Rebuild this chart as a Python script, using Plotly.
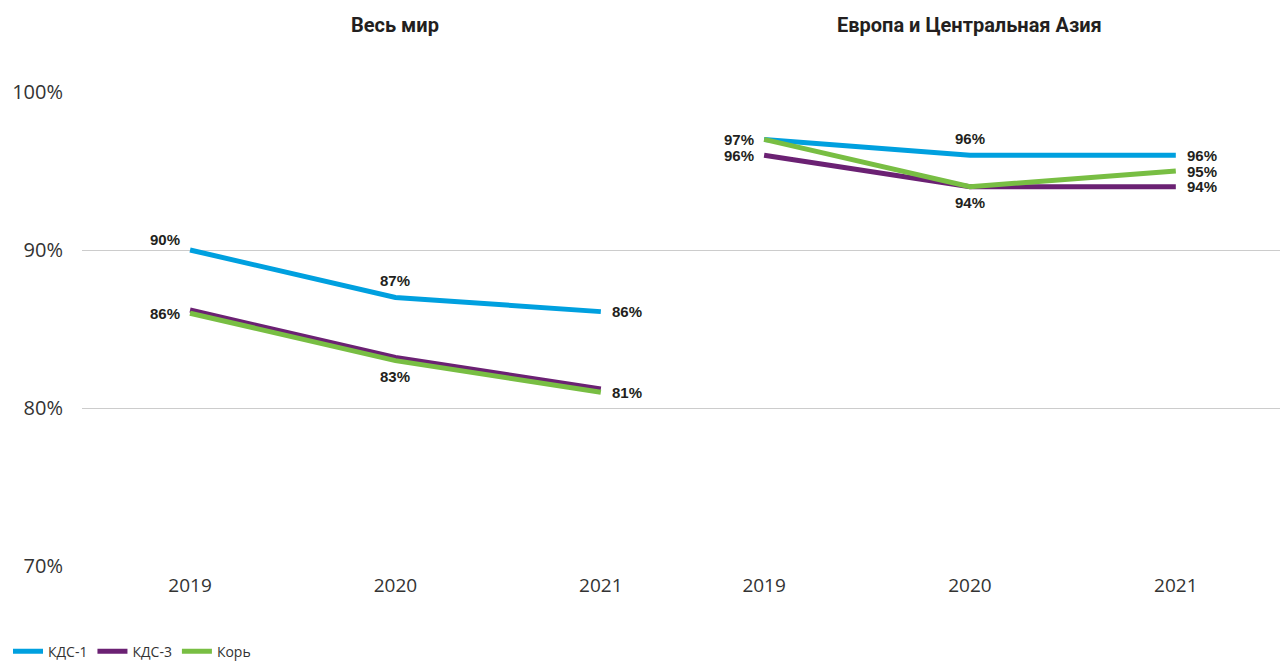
import plotly.graph_objects as go

years = ["2019", "2020", "2021"]
regions = ["Весь мир", "Европа и Центральная Азия"]
series_names = ["КДС-1", "КДС-3", "Корь"]
colors = ["#00a0df", "#6b2173", "#78be43"]
y_ticks = [70, 80, 90, 100]

# values per region: [DTP1, DTP3, Measles]
world_dtp1 = [90.0, 87.0, 86.1]
world_dtp3 = [86.2, 83.2, 81.2]
world_measles = [86.0, 83.0, 81.0]
eca_dtp1 = [97.0, 96.0, 96.0]
eca_dtp3 = [96.0, 94.0, 94.0]
eca_measles = [97.0, 94.0, 95.0]

data = {
    0: [world_dtp1, world_dtp3, world_measles],
    1: [eca_dtp1, eca_dtp3, eca_measles],
}

# label specs: (region, series index, point index, position)
labels = [
    (0, 0, 0, "left_up"), (0, 2, 0, "left"), (0, 0, 1, "top"), (0, 2, 1, "bottom"),
    (0, 0, 2, "right"), (0, 2, 2, "right"),
    (1, 0, 0, "left"), (1, 1, 0, "left"), (1, 0, 1, "top"), (1, 2, 1, "bottom"),
    (1, 0, 2, "right"), (1, 2, 2, "right"), (1, 1, 2, "right"),
]

fig = go.Figure()
xaxes = ["x", "x2"]
for r in range(2):
    for s in range(3):
        fig.add_trace(go.Scatter(
            x=[0, 1, 2], y=data[r][s], mode="lines", name=series_names[s],
            line=dict(color=colors[s], width=5), xaxis=xaxes[r], yaxis="y",
            showlegend=(r == 0), legendgroup=series_names[s],
        ))

label_font = dict(family="Liberation Sans", size=15, color="#231f20", weight="bold")
for r, s, i, pos in labels:
    v = data[r][s][i]
    kw = dict(x=i, y=v, xref=xaxes[r], yref="y", text=f"{round(v)}%",
              showarrow=False, font=label_font)
    if pos == "left":
        kw.update(xanchor="right", yanchor="middle", xshift=-8)
    elif pos == "left_up":
        kw.update(xanchor="right", yanchor="middle", xshift=-8, yshift=11)
    elif pos == "top":
        kw.update(xanchor="center", yanchor="middle", yshift=17)
    elif pos == "bottom":
        kw.update(xanchor="center", yanchor="middle", yshift=-16)
    elif pos == "right":
        kw.update(xanchor="left", yanchor="middle", xshift=9)
    fig.add_annotation(**kw)

for r in range(2):
    fig.add_annotation(x=1, y=1.141, xref=xaxes[r], yref="paper", text=f"<b>{regions[r]}</b>",
                       showarrow=False, font=dict(family="Roboto", size=20, color="#231f20"),
                       xanchor="center", yanchor="middle")

tick_font = dict(family="Open Sans", size=19, color="#333333")
ytick_font = dict(family="Open Sans", size=20, color="#333333")
split = (675 - 74) / (1280 - 74)
fig.update_layout(
    width=1280, height=654,
    margin=dict(l=74, r=0, t=84, b=96),
    paper_bgcolor="white", plot_bgcolor="white",
    xaxis=dict(domain=[0, split], range=[-0.526, 2.4], tickvals=[0, 1, 2], ticktext=years,
               showgrid=False, zeroline=False, tickfont=tick_font, ticks="", ticklabelstandoff=6),
    xaxis2=dict(domain=[split, 1], range=[-0.394, 2.545], tickvals=[0, 1, 2], ticktext=years,
                showgrid=False, zeroline=False, tickfont=tick_font, ticks="", anchor="y", ticklabelstandoff=6),
    yaxis=dict(range=[70, 100], tickvals=y_ticks, ticktext=[f"{t}%" for t in y_ticks], showgrid=True,
               gridcolor="#cccccc", gridwidth=1, zeroline=False, tickfont=ytick_font,
               ticklabelstandoff=18),
    legend=dict(orientation="h", xref="container", yref="container", x=0.0, y=0.016,
                xanchor="left", yanchor="middle", font=dict(family="Open Sans", size=14, color="#333333"),
                itemwidth=30, tracegroupgap=0),
    showlegend=True,
)
fig.write_html("out.html")
